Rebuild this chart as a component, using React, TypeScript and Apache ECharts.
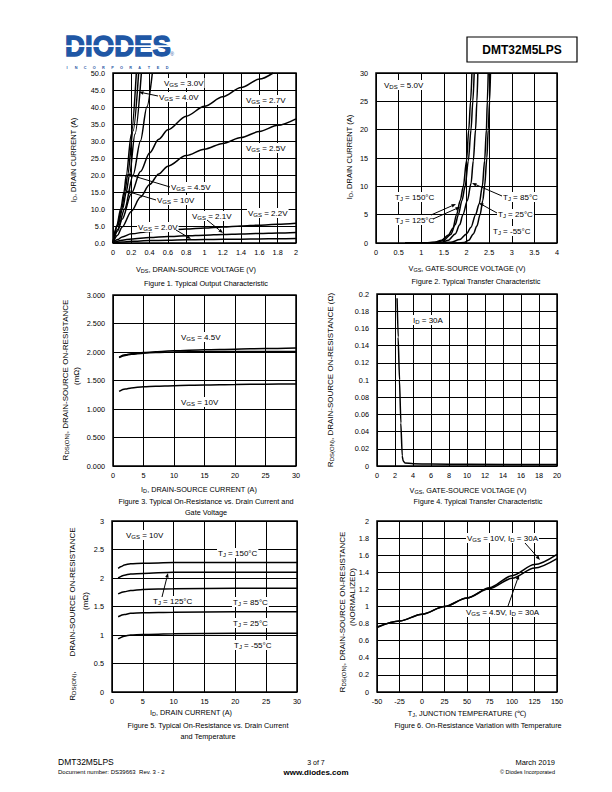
import React, { useEffect, useRef } from 'react';
import * as echarts from 'echarts';

const FF = "'Liberation Sans', Arial, Helvetica, sans-serif";

// ---------- Figure 1: Typical Output Characteristic (VDS [V], ID [A]) ----------
const fig1Vgs10 = [[0, 0], [0.04, 5], [0.084, 10], [0.12, 15], [0.145, 20], [0.2, 32], [0.255, 50]];
const fig1Vgs45 = [[0, 0], [0.045, 5], [0.095, 10], [0.13, 15], [0.16, 20], [0.22, 33], [0.28, 50]];
const fig1Vgs40 = [[0, 0], [0.05, 5], [0.105, 10], [0.145, 15], [0.18, 20], [0.24, 32], [0.31, 50]];
const fig1Vgs30 = [[0, 0], [0.05, 4], [0.127, 10], [0.22, 20], [0.3, 30], [0.37, 40], [0.43, 50]];
const fig1Vgs27 = [[0, 0], [0.05, 3.5], [0.1, 7], [0.2, 14.5], [0.3, 21], [0.4, 26.5], [0.5, 30.5], [0.6, 33.3], [0.8, 37.3], [1.0, 40.2], [1.2, 43], [1.4, 45.7], [1.6, 48.2], [1.75, 50]];
const fig1Vgs25 = [[0, 0], [0.05, 2.3], [0.1, 4.7], [0.2, 9.3], [0.3, 13.5], [0.4, 17.2], [0.5, 20.3], [0.6, 22.6], [0.8, 25.7], [1.0, 27.6], [1.2, 29.3], [1.4, 31], [1.6, 32.8], [1.8, 34.6], [2.0, 36.5]];
const fig1Vgs22 = [[0, 0], [0.05, 1], [0.1, 1.8], [0.2, 2.7], [0.4, 3.4], [0.6, 3.8], [0.8, 4.1], [1.0, 4.4], [1.2, 4.7], [1.4, 5.0], [1.6, 5.25], [1.8, 5.5], [2.0, 5.8]];
const fig1Vgs21 = [[0, 0], [0.1, 0.8], [0.2, 1.2], [0.4, 1.6], [0.6, 1.9], [0.8, 2.1], [1.0, 2.3], [1.2, 2.5], [1.4, 2.65], [1.6, 2.8], [1.8, 2.95], [2.0, 3.1]];
const fig1Vgs20 = [[0, 0], [0.1, 0.3], [0.2, 0.5], [0.4, 0.7], [0.6, 0.82], [0.8, 0.92], [1.0, 1.0], [1.2, 1.07], [1.4, 1.13], [1.6, 1.2], [1.8, 1.25], [2.0, 1.3]];

// ---------- Figure 2: Typical Transfer Characteristic (VGS [V], ID [A]) ----------
const fig2T150 = [[0.65, 0], [1.1, 0.02], [1.3, 0.12], [1.45, 0.5], [1.6, 1.4], [1.7, 2.6], [1.78, 5], [1.86, 7.5], [1.93, 10], [2.0, 14.5], [2.05, 20], [2.09, 25], [2.12, 30]];
const fig2T125 = [[0.65, 0], [1.15, 0.02], [1.35, 0.12], [1.5, 0.5], [1.65, 1.5], [1.75, 3.2], [1.82, 5], [1.9, 7.5], [1.97, 10], [2.04, 14.5], [2.1, 20], [2.14, 25], [2.17, 30]];
const fig2T85 = [[0.65, 0], [1.25, 0.02], [1.45, 0.12], [1.6, 0.5], [1.75, 1.6], [1.85, 3.2], [1.92, 5], [2.02, 7.5], [2.1, 10.5], [2.15, 14.5], [2.2, 20], [2.23, 25], [2.25, 30]];
const fig2T25 = [[0.65, 0], [1.4, 0.02], [1.65, 0.12], [1.85, 0.6], [2.0, 1.6], [2.1, 2.8], [2.2, 5], [2.28, 6.9], [2.35, 10], [2.4, 14.5], [2.44, 20], [2.46, 25], [2.48, 30]];
const fig2Tm55 = [[0.65, 0], [1.8, 0.01], [1.95, 0.1], [2.05, 0.5], [2.15, 1.6], [2.23, 3], [2.3, 5], [2.36, 7.5], [2.4, 10], [2.45, 15], [2.48, 20], [2.51, 25], [2.53, 30]];

// ---------- Figure 3: RDS(ON) vs ID and VGS (ID [A], RDS [mOhm]) ----------
const fig3Vgs45a = [[1, 1.91], [2, 1.95], [3, 1.97], [5, 1.99], [7, 2.005], [10, 2.02], [15, 2.04], [20, 2.05], [25, 2.06], [30, 2.07]];
const fig3Vgs45b = [[1, 1.9], [2, 1.94], [3, 1.96], [5, 1.98], [7, 1.99], [10, 2.0], [15, 2.005], [20, 2.01], [25, 2.01], [30, 2.01]];
const fig3Vgs10 = [[1, 1.31], [2, 1.35], [3, 1.37], [5, 1.39], [7, 1.4], [10, 1.41], [15, 1.42], [20, 1.43], [25, 1.435], [30, 1.44]];

// ---------- Figure 4: RDS(ON) vs VGS (VGS [V], RDS [Ohm]) ----------
const fig4Id30 = [[2.23, 0.195], [2.35, 0.15], [2.5, 0.1], [2.65, 0.05], [2.8, 0.012], [2.9, 0.006], [3.1, 0.0035], [4, 0.0027], [6, 0.0022], [10, 0.002], [20, 0.0017]];

// ---------- Figure 5: RDS(ON) vs ID and TJ (ID [A], RDS [mOhm]) ----------
const fig5T150 = [[1, 2.17], [1.5, 2.2], [2, 2.23], [3, 2.25], [5, 2.26], [10, 2.27], [20, 2.27], [30, 2.27]];
const fig5T125 = [[1, 2.0], [2, 2.05], [3, 2.07], [5, 2.08], [10, 2.1], [20, 2.1], [30, 2.1]];
const fig5T85 = [[1, 1.72], [2, 1.76], [3, 1.78], [5, 1.8], [10, 1.81], [20, 1.82], [30, 1.82]];
const fig5T25 = [[1, 1.32], [2, 1.36], [3, 1.38], [5, 1.39], [10, 1.4], [20, 1.41], [30, 1.41]];
const fig5Tm55 = [[1, 0.93], [2, 0.98], [3, 1.0], [5, 1.01], [10, 1.02], [20, 1.03], [30, 1.03]];

// ---------- Figure 6: normalized RDS(ON) vs TJ ----------
const fig6Vgs10 = [[-50, 0.76], [-25, 0.83], [0, 0.91], [25, 1.0], [50, 1.1], [75, 1.22], [100, 1.36], [125, 1.49], [150, 1.61]];
const fig6Vgs45 = [[-50, 0.755], [-25, 0.83], [0, 0.91], [25, 1.0], [50, 1.1], [75, 1.21], [100, 1.33], [125, 1.45], [150, 1.56]];

const INCORPORATED = 'INCORPORATED'.split('');

function R(s: string, size = 8, sub = 6) {
  const parts = s.split(/_\{([^}]*)\}/);
  let text = '';
  parts.forEach((p, i) => {
    if (!p) return;
    text += i % 2 ? `{s|${p}}` : `{n|${p}}`;
  });
  return {
    text,
    rich: {
      n: { fontSize: size, fontFamily: FF },
      s: { fontSize: sub, fontFamily: FF, padding: [Math.round(size * 0.55), 0, 0, 0] },
    },
  };
}

function label(x: number, y: number, s: string, opt: any = {}) {
  const size = opt.size || 8;
  const sub = opt.sub || 6;
  return {
    type: 'text',
    x,
    y,
    z: 100,
    rotation: opt.rot ? Math.PI / 2 : 0,
    style: {
      ...R(s, size, sub),
      fill: '#000',
      textAlign: opt.align || 'left',
      textVerticalAlign: 'middle',
      backgroundColor: opt.bg ? '#fff' : undefined,
      padding: opt.bg ? [0, 1, 0, 1] : undefined,
    },
  };
}

function plain(x: number, y: number, s: string, opt: any = {}) {
  return {
    type: 'text',
    x,
    y,
    z: 100,
    style: {
      text: s,
      fontSize: opt.size || 7.3,
      fontFamily: opt.family || FF,
      fontWeight: opt.weight || 'normal',
      fill: opt.fill || '#000',
      textAlign: opt.align || 'center',
      textVerticalAlign: 'middle',
    },
  };
}

function arrow(x1: number, y1: number, x2: number, y2: number) {
  const a = Math.atan2(y2 - y1, x2 - x1);
  const L = 4.5;
  const W = 1.8;
  const bx = x2 - L * Math.cos(a);
  const by = y2 - L * Math.sin(a);
  return [
    { type: 'line', z: 101, shape: { x1, y1, x2: bx, y2: by }, style: { stroke: '#000', lineWidth: 1 } },
    {
      type: 'polygon',
      z: 101,
      shape: {
        points: [
          [x2, y2],
          [bx + W * Math.sin(a), by - W * Math.cos(a)],
          [bx - W * Math.sin(a), by + W * Math.cos(a)],
        ],
      },
      style: { fill: '#000' },
    },
  ];
}

function grid(left: number, top: number, width: number, height: number) {
  return { left, top, width, height, show: true, borderColor: '#000', borderWidth: 1.5, backgroundColor: 'transparent' };
}

function axis(gi: number, min: number, max: number, interval: number, margin: number, fmt?: (v: number) => string) {
  return {
    type: 'value',
    gridIndex: gi,
    min,
    max,
    interval,
    axisLine: { show: false },
    axisTick: { show: false },
    splitLine: { show: true, lineStyle: { color: '#000', width: 1 } },
    axisLabel: { color: '#000', fontSize: 7.3, fontFamily: FF, margin, formatter: fmt },
  };
}

function curve(data: number[][], gi: number, smooth: number = 0.3, color = '#000', width = 1.5) {
  return {
    type: 'line',
    xAxisIndex: gi,
    yAxisIndex: gi,
    data,
    symbol: 'none',
    showSymbol: false,
    smooth,
    smoothMonotone: 'x',
    silent: true,
    clip: true,
    lineStyle: { color, width },
    z: 3,
  };
}

export default function App() {
  const ref = useRef<HTMLDivElement>(null);
  useEffect(() => {
    if (!ref.current) return;
    const chart = echarts.init(ref.current, null, { renderer: 'svg' });

    const graphic: any[] = [];
    // Header logo
    graphic.push({
      type: 'text', x: 118, y: 46, z: 100, scaleX: 0.92,
      style: { text: 'DIODES', fontSize: 30, fontWeight: 'bold', fontFamily: FF, fill: '#1f57a5', stroke: '#1f57a5', lineWidth: 1.4, textAlign: 'center', textVerticalAlign: 'middle' },
    });
    graphic.push({ type: 'rect', z: 101, shape: { x: 62, y: 45.3, width: 112, height: 1.6 }, style: { fill: '#fff' } });
    graphic.push(plain(172, 54, '®', { size: 5, fill: '#1f57a5' }));
    INCORPORATED.forEach((c, i) => graphic.push(plain(67 + i * (100 / 11), 67.5, c, { size: 3.8, weight: 'bold', fill: '#1f57a5' })));
    graphic.push({ type: 'rect', z: 100, shape: { x: 467, y: 37, width: 110, height: 25 }, style: { fill: 'none', stroke: '#000', lineWidth: 1.2 } });
    graphic.push(plain(522, 49.5, 'DMT32M5LPS', { size: 12, weight: 'bold' }));

    // Footer
    graphic.push(plain(58, 762, 'DMT32M5LPS', { size: 8.5, align: 'left' }));
    graphic.push(plain(58, 772, 'Document number: DS39663  Rev. 3 - 2', { size: 6, align: 'left' }));
    graphic.push(plain(316, 762, '3 of 7', { size: 7 }));
    graphic.push(plain(316, 772, 'www.diodes.com', { size: 8, weight: 'bold' }));
    graphic.push(plain(555, 762, 'March 2019', { size: 7.5, align: 'right' }));
    graphic.push(plain(555, 771.5, '© Diodes Incorporated', { size: 5.5, align: 'right' }));

    // Figure 1
    graphic.push(label(73, 160, 'I_{D}, DRAIN CURRENT (A)', { rot: true, size: 7.5, sub: 5.5, align: 'center' }));
    graphic.push(label(196, 269, 'V_{DS}, DRAIN-SOURCE VOLTAGE (V)', { size: 7.3, sub: 5.5, align: 'center' }));
    graphic.push(plain(206, 283, 'Figure 1. Typical Output Characteristic'));
    graphic.push(label(163, 83, 'V_{GS} = 3.0V', { bg: true }));
    graphic.push(label(158, 97, 'V_{GS} = 4.0V', { bg: true }));
    graphic.push(label(245, 100, 'V_{GS} = 2.7V', { bg: true }));
    graphic.push(label(245, 148, 'V_{GS} = 2.5V', { bg: true }));
    graphic.push(label(170, 187, 'V_{GS} = 4.5V', { bg: true }));
    graphic.push(label(156, 200, 'V_{GS} = 10V', { bg: true }));
    graphic.push(label(191, 216, 'V_{GS} = 2.1V', { bg: true }));
    graphic.push(label(247, 213, 'V_{GS} = 2.2V', { bg: true }));
    graphic.push(label(137, 227, 'V_{GS} = 2.0V', { bg: true }));
    graphic.push(...arrow(158, 96, 139, 92));
    graphic.push(...arrow(170, 187, 127, 174));
    graphic.push(...arrow(156, 200, 126, 191));
    graphic.push(...arrow(207, 220, 223, 233));
    graphic.push(...arrow(176, 230, 191, 239));

    // Figure 2
    graphic.push(label(349, 157, 'I_{D}, DRAIN CURRENT (A)', { rot: true, size: 7.5, sub: 5.5, align: 'center' }));
    graphic.push(label(467, 268, 'V_{GS}, GATE-SOURCE VOLTAGE (V)', { size: 7.3, sub: 5.5, align: 'center' }));
    graphic.push(plain(476, 281, 'Figure 2. Typical Transfer Characteristic'));
    graphic.push(label(383, 85, 'V_{DS} = 5.0V', { bg: true }));
    graphic.push(label(394, 197, 'T_{J} = 150°C', { bg: true }));
    graphic.push(label(394, 220, 'T_{J} = 125°C', { bg: true }));
    graphic.push(label(502, 197, 'T_{J} = 85°C', { bg: true }));
    graphic.push(label(497, 214, 'T_{J} = 25°C', { bg: true }));
    graphic.push(label(492, 231, 'T_{J} = -55°C', { bg: true }));
    graphic.push(...arrow(502, 196, 472, 183));
    graphic.push(...arrow(497, 213, 479, 203));
    graphic.push(...arrow(433, 219, 460, 207));
    graphic.push(...arrow(431, 215, 456, 204));

    // Figure 3
    graphic.push(label(65, 380, 'R_{DS(ON)}, DRAIN-SOURCE ON-RESISTANCE', { rot: true, size: 8, sub: 6, align: 'center' }));
    graphic.push(label(76, 376, '(mΩ)', { rot: true, size: 8, align: 'center' }));
    graphic.push(label(199, 489, 'I_{D}, DRAIN-SOURCE CURRENT (A)', { size: 7.3, sub: 5.5, align: 'center' }));
    graphic.push(plain(206, 501, 'Figure 3. Typical On-Resistance vs. Drain Current and'));
    graphic.push(plain(206, 512, 'Gate Voltage'));
    graphic.push(label(180, 337, 'V_{GS} = 4.5V', { bg: true }));
    graphic.push(label(180, 402, 'V_{GS} = 10V', { bg: true }));

    // Figure 4
    graphic.push(label(330, 380, 'R_{DS(ON)}, DRAIN-SOURCE ON-RESISTANCE (Ω)', { rot: true, size: 8, sub: 6, align: 'center' }));
    graphic.push(label(468, 490, 'V_{GS}, GATE-SOURCE VOLTAGE (V)', { size: 7.3, sub: 5.5, align: 'center' }));
    graphic.push(plain(478, 501, 'Figure 4. Typical Transfer Characteristic'));
    graphic.push(label(412, 320, 'I_{D} = 30A', { bg: true }));

    // Figure 5
    graphic.push(label(72, 686, 'R_{DS(ON)},', { rot: true, size: 8, sub: 6, align: 'center' }));
    graphic.push(label(72, 592, 'DRAIN-SOURCE ON-RESISTANCE', { rot: true, size: 8, align: 'center' }));
    graphic.push(label(85, 601, '(mΩ)', { rot: true, size: 8, align: 'center' }));
    graphic.push(label(191, 712, 'I_{D}, DRAIN CURRENT (A)', { size: 7.3, sub: 5.5, align: 'center' }));
    graphic.push(plain(208, 725, 'Figure 5. Typical On-Resistance vs. Drain Current'));
    graphic.push(plain(208, 736, 'and Temperature'));
    graphic.push(label(125, 535, 'V_{GS} = 10V', { bg: true }));
    graphic.push(label(217, 553, 'T_{J} = 150°C', { bg: true }));
    graphic.push(label(152, 601, 'T_{J} = 125°C', { bg: true }));
    graphic.push(label(232, 602, 'T_{J} = 85°C', { bg: true }));
    graphic.push(label(232, 623, 'T_{J} = 25°C', { bg: true }));
    graphic.push(label(233, 645, 'T_{J} = -55°C', { bg: true }));
    graphic.push(...arrow(162, 597, 168, 573));

    // Figure 6
    graphic.push(label(342, 612, 'R_{DS(ON)}, DRAIN-SOURCE ON-RESISTANCE', { rot: true, size: 8, sub: 6, align: 'center' }));
    graphic.push(label(352, 597, '(NORMALIZED)', { rot: true, size: 8, align: 'center' }));
    graphic.push(label(467, 713, 'T_{J}, JUNCTION TEMPERATURE (℃)', { size: 7.3, sub: 5.5, align: 'center' }));
    graphic.push(plain(478, 725, 'Figure 6. On-Resistance Variation with Temperature'));
    graphic.push(label(466, 538, 'V_{GS} = 10V, I_{D} = 30A', { bg: true }));
    graphic.push(label(465, 612, 'V_{GS} = 4.5V, I_{D} = 30A', { bg: true }));
    graphic.push(...arrow(525, 543, 540, 560));
    graphic.push(...arrow(508, 606, 519, 575));

    const option: any = {
      animation: false,
      backgroundColor: '#fff',
      textStyle: { fontFamily: FF },
      grid: [
        grid(113, 73, 183, 170),
        grid(376, 73, 181, 170),
        grid(113, 295, 183, 171),
        grid(377, 294, 180, 172),
        grid(112, 521, 185, 171),
        grid(377, 521, 180, 171),
      ],
      xAxis: [
        axis(0, 0, 2, 0.2, 6),
        axis(1, 0, 4, 0.5, 6),
        axis(2, 0, 30, 5, 6),
        axis(3, 0, 20, 2, 6),
        axis(4, 0, 30, 5, 6),
        axis(5, -50, 150, 25, 6),
      ],
      yAxis: [
        axis(0, 0, 50, 5, 8, (v: number) => v.toFixed(1)),
        axis(1, 0, 30, 5, 8),
        axis(2, 0, 3, 0.5, 8, (v: number) => v.toFixed(3)),
        axis(3, 0, 0.2, 0.02, 8),
        axis(4, 0, 3, 0.5, 8),
        axis(5, 0, 2, 0.2, 8),
      ],
      series: [
        curve(fig1Vgs10, 0),
        curve(fig1Vgs45, 0),
        curve(fig1Vgs40, 0),
        curve(fig1Vgs30, 0),
        curve(fig1Vgs27, 0),
        curve(fig1Vgs25, 0),
        curve(fig1Vgs22, 0),
        curve(fig1Vgs21, 0),
        curve(fig1Vgs20, 0),
        curve(fig2T150, 1),
        curve(fig2T125, 1),
        curve(fig2T85, 1),
        curve(fig2T25, 1),
        curve(fig2Tm55, 1),
        curve(fig3Vgs45a, 2),
        curve(fig3Vgs45b, 2),
        curve(fig3Vgs10, 2),
        curve(fig4Id30, 3, 0.15),
        curve(fig5T150, 4),
        curve(fig5T125, 4),
        curve(fig5T85, 4),
        curve(fig5T25, 4),
        curve(fig5Tm55, 4),
        curve(fig6Vgs10, 5),
        curve(fig6Vgs45, 5),
      ],
      graphic: { elements: graphic },
    };
    chart.setOption(option);
    return () => chart.dispose();
  }, []);

  return (
    <div
      ref={ref}
      style={{ position: 'absolute', left: 0, top: 0, width: 612, height: 792, background: '#fff' }}
    />
  );
}
